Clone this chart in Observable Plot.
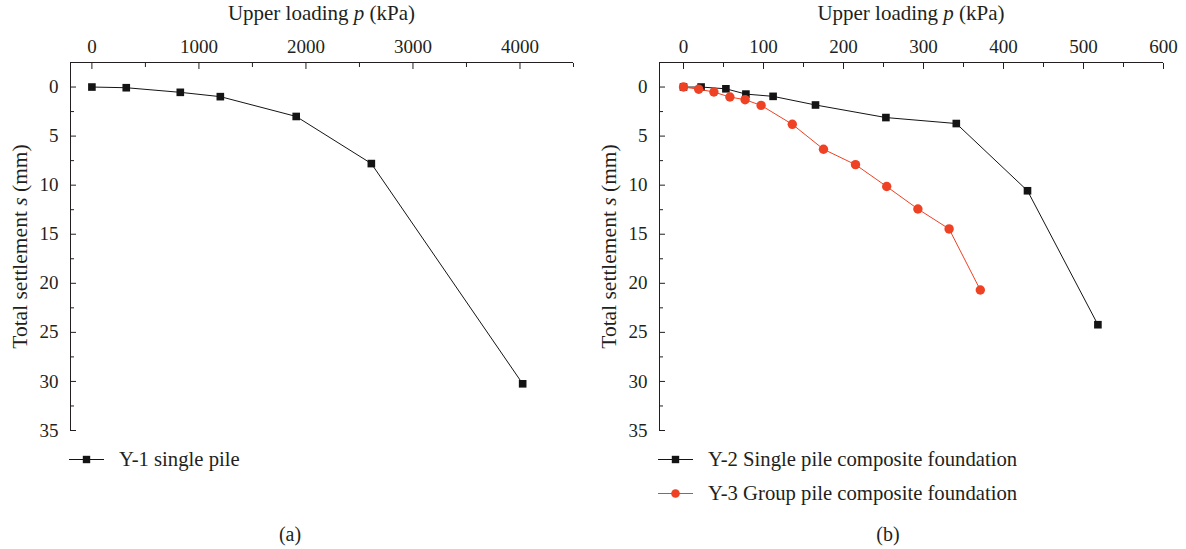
<!DOCTYPE html>
<html>
<head>
<meta charset="utf-8">
<script src="https://cdn.jsdelivr.net/npm/d3@7"></script>
<script src="https://cdn.jsdelivr.net/npm/@observablehq/plot@0.6"></script>
<style>
  html, body { margin: 0; padding: 0; background: #fff; }
  body { font-family: "Liberation Serif", "Times New Roman", serif; color: #231f20; }
  #figure { display: flex; width: 1186px; height: 549px; overflow: hidden; }
  .panel { position: relative; width: 593px; height: 549px; }
  .panel > svg { display: block; overflow: visible; background: transparent;
    font-family: "Liberation Serif", "Times New Roman", serif !important; font-size: 19px !important; }
  .panel > svg text { font-family: "Liberation Serif", "Times New Roman", serif !important; font-variant: normal !important; }
  .xtitle { position: absolute; top: 1px; font-size: 21px; line-height: 24px; text-align: center; white-space: nowrap; }
  .legend { position: absolute; top: 442px; font-size: 20.7px; }
  .legend .item { display: flex; align-items: center; height: 34px; white-space: nowrap; }
  .legend .item svg { margin-right: 15px; flex: none; }
  .caption { position: absolute; top: 522px; width: 60px; text-align: center; font-size: 20px; line-height: 24px; }
</style>
</head>
<body>
<div id="figure"></div>
<script>
// Upper loading p (kPa) against total settlement s (mm) for each test
const y1Load = [0, 321, 826, 1200, 1909, 2611, 4025];
const y1Settlement = [0, 0.07, 0.54, 0.98, 3.0, 7.8, 30.24];

const y2Load = [0, 22, 53, 78, 112, 165, 253, 341, 430, 518];
const y2Settlement = [0, 0, 0.18, 0.72, 0.95, 1.83, 3.11, 3.72, 10.57, 24.22];

const y3Load = [0, 19, 38, 58, 77, 97, 136, 175, 215, 254, 293, 332, 371];
const y3Settlement = [0, 0.22, 0.51, 1.02, 1.29, 1.87, 3.8, 6.34, 7.91, 10.14, 12.43, 14.46, 20.68];

const seriesNames = ["Y-1 single pile", "Y-2 Single pile composite foundation", "Y-3 Group pile composite foundation"];
const panelCaptions = ["(a)", "(b)"];
const yLabel = "Total settlement s (mm)";

const xDomainA = [-200, 4500];
const xTicksA = [0, 1000, 2000, 3000, 4000];
const xMinorA = [500, 1500, 2500, 3500, 4500];

const xDomainB = [-30, 600];
const xTicksB = [0, 100, 200, 300, 400, 500, 600];
const xMinorB = [50, 150, 250, 350, 450, 550];

const yDomain = [-2.5, 35];
const yTicks = [0, 5, 10, 15, 20, 25, 30, 35];
const yMinor = [2.5, 7.5, 12.5, 17.5, 22.5, 27.5, 32.5];

const INK = "#231f20";
const BLACK = "#141414";
const RED = "#ef4123";
const SERIF = '"Liberation Serif", "Times New Roman", serif';

const rows = (load, settlement) => load.map((p, i) => ({p, s: settlement[i]}));
const plain = d => String(d);

function drawPanel({xDomain, xTicks, xMinor, series, marginLeft, marginRight}) {
  const marks = [
    // axis lines along the top and the left of the frame
    Plot.ruleY([yDomain[0]], {stroke: INK, strokeWidth: 1}),
    Plot.ruleX([xDomain[0]], {stroke: INK, strokeWidth: 1}),
    Plot.axisX(xTicks, {anchor: "top", tickSize: -6, tickPadding: 16, tickFormat: plain, label: null,
      stroke: INK, fill: INK, fontFamily: SERIF, fontSize: 19}),
    Plot.axisX(xMinor, {anchor: "top", tickSize: -4, text: null, label: null, stroke: INK}),
    Plot.axisY(yTicks, {anchor: "left", tickSize: -6, tickPadding: 18, tickFormat: plain,
      stroke: INK, fill: INK, fontFamily: SERIF, fontSize: 19}),
    Plot.axisY(yMinor, {anchor: "left", tickSize: -4, text: null, label: null, stroke: INK}),
    // settlement axis title, rotated along the left axis
    Plot.axisY({anchor: "left", ticks: [], tickSize: 0, text: null, label: yLabel, labelArrow: "none",
      labelAnchor: "center", labelOffset: 59, fill: INK, fontFamily: SERIF, fontSize: 21.5})
  ];
  for (const {data, color, symbol, r} of series) {
    marks.push(Plot.line(data, {x: "p", y: "s", stroke: color, strokeWidth: 1}));
    marks.push(Plot.dot(data, {x: "p", y: "s", fill: color, stroke: "none", symbol, r}));
  }
  const svg = Plot.plot({
    width: 593,
    height: 440,
    marginTop: 62,
    marginBottom: 10,
    marginLeft,
    marginRight,
    x: {domain: xDomain, label: null},
    y: {domain: yDomain, reverse: true, label: null},
    marks
  });
  // italic quantity symbol in the settlement label
  d3.select(svg).selectAll("text").each(function () {
    if (this.textContent.includes("Total settlement")) {
      this.innerHTML = 'Total settlement <tspan font-style="italic">s</tspan> (mm)';
    }
  });
  return svg;
}

function legendSwatch(color, shape) {
  const marker = shape === "square"
    ? `<rect x="14" y="2.5" width="7.5" height="7.5" fill="${color}"/>`
    : `<circle cx="17.75" cy="6.25" r="4.4" fill="${color}"/>`;
  return `<svg width="35" height="13" viewBox="0 0 35.5 12.5"><line x1="0" x2="35.5" y1="6.25" y2="6.25" stroke="${color}" stroke-width="1.2"/>${marker}</svg>`;
}

function buildPanel(cfg, legendItems, caption, captionCenter) {
  const panel = document.createElement("div");
  panel.className = "panel";
  panel.appendChild(drawPanel(cfg));

  const plotWidth = 593 - cfg.marginLeft - cfg.marginRight;
  const title = document.createElement("div");
  title.className = "xtitle";
  title.style.left = cfg.marginLeft + "px";
  title.style.width = plotWidth + "px";
  title.innerHTML = 'Upper loading <i>p</i> (kPa)';
  panel.appendChild(title);

  const legend = document.createElement("div");
  legend.className = "legend";
  legend.style.left = (cfg.marginLeft - 1) + "px";
  legend.innerHTML = legendItems.map(d =>
    `<div class="item">${legendSwatch(d.color, d.shape)}<span>${d.name}</span></div>`).join("");
  panel.appendChild(legend);

  const cap = document.createElement("div");
  cap.className = "caption";
  cap.style.left = (captionCenter - 30) + "px";
  cap.textContent = caption;
  panel.appendChild(cap);
  return panel;
}

const fig = document.getElementById("figure");

fig.appendChild(buildPanel({
  xDomain: xDomainA, xTicks: xTicksA, xMinor: xMinorA,
  marginLeft: 70, marginRight: 20,
  series: [{data: rows(y1Load, y1Settlement), color: BLACK, symbol: "square", r: 4.3}]
}, [{name: seriesNames[0], color: BLACK, shape: "square"}], panelCaptions[0], 290));

fig.appendChild(buildPanel({
  xDomain: xDomainB, xTicks: xTicksB, xMinor: xMinorB,
  marginLeft: 66, marginRight: 23,
  series: [
    {data: rows(y2Load, y2Settlement), color: BLACK, symbol: "square", r: 4.3},
    {data: rows(y3Load, y3Settlement), color: RED, symbol: "circle", r: 4.7}
  ]
}, [
  {name: seriesNames[1], color: BLACK, shape: "square"},
  {name: seriesNames[2], color: RED, shape: "circle"}
], panelCaptions[1], 295));
</script>
</body>
</html>
